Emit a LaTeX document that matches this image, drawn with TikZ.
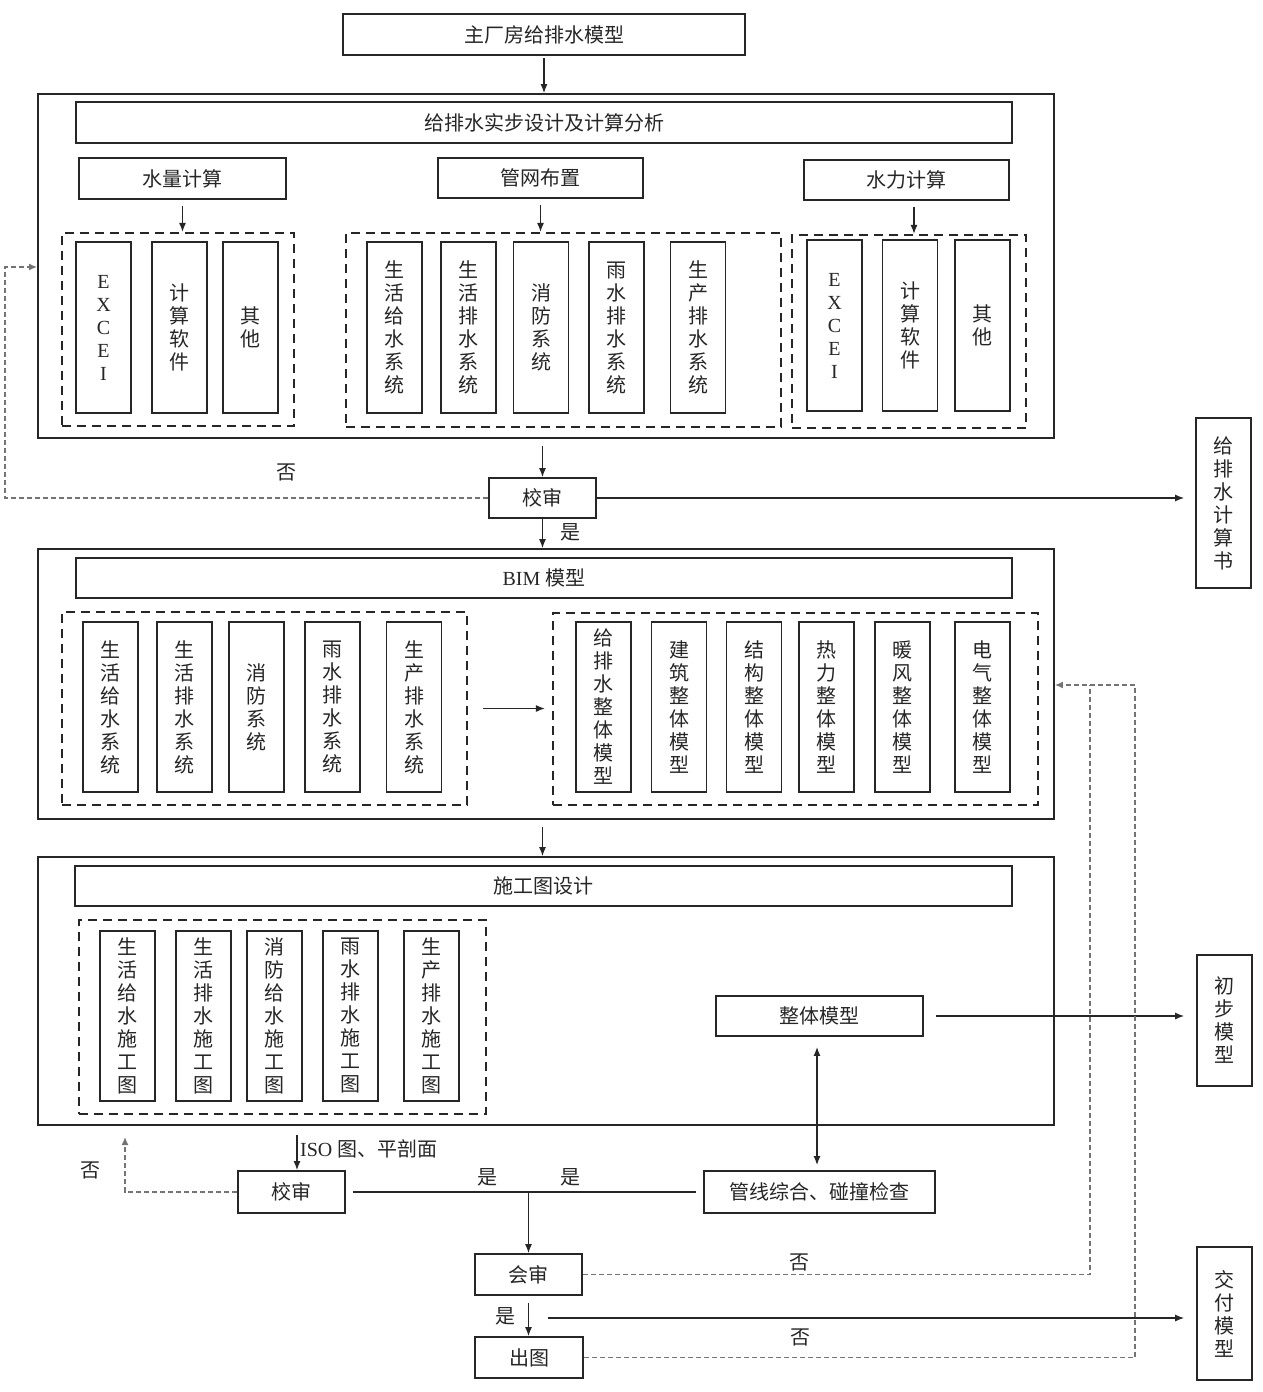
\documentclass[tikz,border=0pt]{standalone}
\usepackage{fontspec}
\setmainfont{Liberation Serif}
\newfontfamily\cjk{Noto Sans CJK SC}
\usetikzlibrary{arrows.meta}
\tikzset{
 bx/.style={draw=black!85, line width=1.8pt, inner sep=0pt, font=\cjk\fontsize{20}{23}\selectfont, text=black!85},
 vb/.style={bx, align=center, minimum width=55pt, minimum height=171pt},
 grp/.style={draw=black!85, line width=2.2pt, dash pattern=on 9pt off 6pt, inner sep=0pt},
 outerbox/.style={draw=black!85, line width=1.8pt, inner sep=0pt},
 arr/.style={-{Latex[length=9pt,width=7pt]}, line width=1.2pt, draw=black!85},
 fb/.style={draw=black!55, line width=1.5pt, dash pattern=on 5pt off 3pt},
 lbl/.style={font=\cjk\fontsize{20}{23}\selectfont, text=black!85, inner sep=0pt},
 exl/.style={font=\rmfamily\fontsize{20}{23}\selectfont}
}
\begin{document}
\begin{tikzpicture}[x=1pt,y=-1pt]
\fill[white] (0,0) rectangle (1263,1392);
\useasboundingbox (0,0) rectangle (1263,1392);
% title
\node[bx, minimum width=402pt, minimum height=41pt] (title) at (544,34.5) {主厂房给排水模型};
% block 1
\node[outerbox, minimum width=1016pt, minimum height=344pt] (outer1) at (546,266) {};
\node[bx, minimum width=936pt, minimum height=41pt] (hdr1) at (544,122.5) {给排水实步设计及计算分析};
\node[bx, minimum width=207pt, minimum height=41pt] (sq1) at (182.5,178.5) {水量计算};
\node[bx, minimum width=205pt, minimum height=40pt] (sq2) at (540.5,178) {管网布置};
\node[bx, minimum width=205pt, minimum height=40pt] (sq3) at (906.5,180) {水力计算};
\node[grp, minimum width=232pt, minimum height=193pt] (g1) at (178,329.5) {};
\node[vb, exl] (g1a) at (103.5,327.5) {E\\X\\C\\E\\I};
\node[vb] (g1b) at (179.5,327.5) {计\\算\\软\\件};
\node[vb] (g1c) at (250.5,327.5) {其\\他};
\node[grp, minimum width=435pt, minimum height=194pt] (g2) at (563.5,330) {};
\node[vb] (g2a) at (394.5,327.5) {生\\活\\给\\水\\系\\统};
\node[vb] (g2b) at (468.5,327.5) {生\\活\\排\\水\\系\\统};
\node[vb] (g2c) at (541,327.5) {消\\防\\系\\统};
\node[vb] (g2d) at (616.5,327.5) {雨\\水\\排\\水\\系\\统};
\node[vb] (g2e) at (698,327.5) {生\\产\\排\\水\\系\\统};
\node[grp, minimum width=234pt, minimum height=193pt] (g3) at (909,331.5) {};
\node[vb, exl] (g3a) at (834.5,325.5) {E\\X\\C\\E\\I};
\node[vb] (g3b) at (910,325.5) {计\\算\\软\\件};
\node[vb] (g3c) at (982.5,325.5) {其\\他};
% review 1
\node[bx, minimum width=107pt, minimum height=40pt] (js1) at (542.5,498) {校审};
\node[bx, align=center, minimum width=55pt, minimum height=170pt] (book) at (1223.5,503) {给\\排\\水\\计\\算\\书};
% block 2
\node[outerbox, minimum width=1016pt, minimum height=270pt] (outer2) at (546,684) {};
\node[bx, minimum width=936pt, minimum height=40pt] (hdr2) at (544,578) {\rmfamily BIM \cjk 模型};
\node[grp, minimum width=405pt, minimum height=193pt] (g4) at (264.5,708.5) {};
\node[vb, minimum height=170pt] (g4a) at (110.5,707) {生\\活\\给\\水\\系\\统};
\node[vb, minimum height=170pt] (g4b) at (184.5,707) {生\\活\\排\\水\\系\\统};
\node[vb, minimum height=170pt] (g4c) at (256.5,707) {消\\防\\系\\统};
\node[vb, minimum height=170pt] (g4d) at (332.5,707) {雨\\水\\排\\水\\系\\统};
\node[vb, minimum height=170pt] (g4e) at (414,707) {生\\产\\排\\水\\系\\统};
\node[grp, minimum width=485pt, minimum height=192pt] (g5) at (795.5,709) {};
\node[vb, minimum height=170pt] (g5a) at (603.5,707) {给\\排\\水\\整\\体\\模\\型};
\node[vb, minimum height=170pt] (g5b) at (679,707) {建\\筑\\整\\体\\模\\型};
\node[vb, minimum height=170pt] (g5c) at (754,707) {结\\构\\整\\体\\模\\型};
\node[vb, minimum height=170pt] (g5d) at (826.5,707) {热\\力\\整\\体\\模\\型};
\node[vb, minimum height=170pt] (g5e) at (902.5,707) {暖\\风\\整\\体\\模\\型};
\node[vb, minimum height=170pt] (g5f) at (982.5,707) {电\\气\\整\\体\\模\\型};
% block 3
\node[outerbox, minimum width=1016pt, minimum height=268pt] (outer3) at (546,991) {};
\node[bx, minimum width=937pt, minimum height=40pt] (hdr3) at (543.5,886) {施工图设计};
\node[grp, minimum width=407pt, minimum height=194pt] (g6) at (282.5,1017) {};
\node[vb, minimum height=170pt] (g6a) at (127.5,1016) {生\\活\\给\\水\\施\\工\\图};
\node[vb, minimum height=170pt] (g6b) at (203.5,1016) {生\\活\\排\\水\\施\\工\\图};
\node[vb, minimum height=170pt] (g6c) at (274.5,1016) {消\\防\\给\\水\\施\\工\\图};
\node[vb, minimum height=170pt] (g6d) at (350.5,1016) {雨\\水\\排\\水\\施\\工\\图};
\node[vb, minimum height=170pt] (g6e) at (431.5,1016) {生\\产\\排\\水\\施\\工\\图};
\node[bx, minimum width=207pt, minimum height=40pt] (whole) at (819.5,1016) {整体模型};
\node[bx, align=center, minimum width=55pt, minimum height=131pt] (chubu) at (1224.5,1020.5) {初\\步\\模\\型};
\node[bx, minimum width=231pt, minimum height=42pt] (gx) at (819.5,1192) {管线综合、碰撞检查};
\node[bx, minimum width=107pt, minimum height=42pt] (js2) at (291.5,1192) {校审};
\node[bx, minimum width=107pt, minimum height=41pt] (hs) at (528.5,1274.5) {会审};
\node[bx, minimum width=108pt, minimum height=41pt] (ct) at (529,1357.5) {出图};
\node[bx, align=center, minimum width=55pt, minimum height=133pt] (jf) at (1224.5,1313.5) {交\\付\\模\\型};
% coordinates
\coordinate (c1) at (5,267);
\coordinate (c2) at (125,1137);
\coordinate (c3) at (1090,685);
\coordinate (c4) at (1135,685);
\coordinate (iso) at (297,1135);
\coordinate (c5) at (548,1318);
% connectors
\draw[arr, shorten <=2pt] (title.south) -- (title.south |- outer1.north);
\draw[arr, shorten <=6pt] (sq1.south) -- (sq1.south |- g1.north);
\draw[arr, shorten <=6pt] (sq2.south) -- (sq2.south |- g2.north);
\draw[arr, shorten <=6pt] (sq3.south -| 914,0) -- (914,0 |- g3.north);
\draw[arr, shorten <=7pt] (js1.north |- outer1.south) -- (js1.north);
\draw[arr, shorten >=11pt] (js1.east) -- (book.west |- js1.east);
\draw[fb, -{Latex[length=8pt,width=7pt]}] (js1.west) -| (c1) -- (outer1.west |- c1);
\draw[arr] (js1.south) -- (js1.south |- outer2.north);
\draw[arr, shorten <=15pt, shorten >=7pt] (g4.east) -- (g5.west |- g4.east);
\draw[arr, shorten <=7pt] (js1.south |- outer2.south) -- (js1.south |- outer3.north);
\draw[arr, shorten <=12pt, shorten >=12pt] (whole.east) -- (chubu.west |- whole.east);
\draw[{Latex[length=9pt,width=7pt]}-{Latex[length=9pt,width=7pt]}, line width=1.4pt, draw=black!85, shorten <=10pt, shorten >=5pt] (whole.south -| 817,0) -- (817,0 |- gx.north);
\draw[arr] (iso) -- (iso |- js2.north);
\draw[fb, -{Latex[length=8pt,width=7pt]}] (js2.west) -| (c2);
\draw[line width=1.2pt, draw=black!85, shorten <=7pt, shorten >=7pt] (js2.east) -- (gx.west);
\draw[arr] (hs.north |- js2.east) -- (hs.north);
\draw[fb] (hs.east) -| (c3);
\draw[fb, -{Latex[length=8pt,width=7pt]}] (ct.east) -| (c4) -- (outer2.east |- c4);
\draw[arr, shorten <=7pt] (hs.south) -- (hs.south |- ct.north);
\draw[arr, shorten >=12pt] (c5) -- (jf.west |- c5);
% labels
\node[lbl] (l1) at (286,472) {否};
\node[lbl] (l2) at (570,532) {是};
\node[lbl, anchor=west] (l3) at (300,1149) {\rmfamily ISO \cjk 图、平剖面};
\node[lbl] (l4) at (90,1170) {否};
\node[lbl] (l5) at (487,1177) {是};
\node[lbl] (l6) at (570,1177) {是};
\node[lbl] (l7) at (799,1262) {否};
\node[lbl] (l8) at (505,1316) {是};
\node[lbl] (l9) at (800,1337) {否};
\end{tikzpicture}
\end{document}
